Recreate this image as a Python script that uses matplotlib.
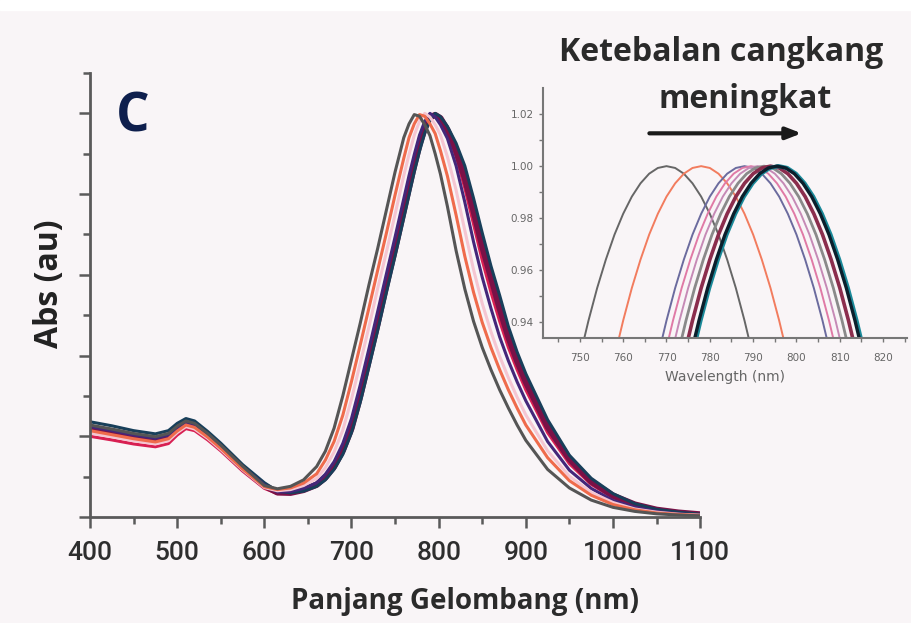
import matplotlib
matplotlib.use("Agg")
from matplotlib import pyplot as plt
from matplotlib.patches import Rectangle
import numpy as np

# spektrum utama
panjang_gelombang = [400, 425, 450, 475, 490, 500, 510, 520, 535, 550, 575, 600,
                     615, 630, 645, 660, 670, 680, 690, 700, 710, 720, 730, 740, 750, 760,
                     766, 772, 778, 784, 790, 796, 802, 810, 820, 830, 840, 850, 860, 870,
                     880, 890, 900, 925, 950, 975, 1000, 1025, 1050, 1075, 1100]

abs_abu = [0.228, 0.218, 0.207, 0.199, 0.207, 0.225, 0.238, 0.232, 0.207, 0.178, 0.126, 0.078,
           0.070, 0.076, 0.092, 0.125, 0.163, 0.220, 0.300, 0.390, 0.480, 0.575, 0.665, 0.760, 0.855, 0.940,
           0.974, 0.997, 0.993, 0.972, 0.945, 0.900, 0.850, 0.770, 0.660, 0.565, 0.485, 0.420, 0.365, 0.315,
           0.270, 0.228, 0.190, 0.118, 0.072, 0.042, 0.024, 0.014, 0.008, 0.005, 0.003]
abs_oranye = [0.214, 0.204, 0.194, 0.186, 0.194, 0.213, 0.228, 0.222, 0.198, 0.170, 0.119, 0.075,
              0.068, 0.072, 0.084, 0.107, 0.141, 0.187, 0.252, 0.336, 0.426, 0.518, 0.611, 0.703, 0.798, 0.889,
              0.940, 0.974, 0.997, 0.993, 0.974, 0.950, 0.908, 0.845, 0.748, 0.646, 0.557, 0.482, 0.420, 0.365,
              0.315, 0.270, 0.228, 0.147, 0.090, 0.054, 0.031, 0.018, 0.010, 0.0065, 0.004]
abs_merahmuda = [0.208, 0.199, 0.189, 0.181, 0.189, 0.209, 0.224, 0.218, 0.195, 0.167, 0.117, 0.073,
                 0.065, 0.068, 0.078, 0.096, 0.122, 0.161, 0.215, 0.292, 0.381, 0.471, 0.566, 0.656, 0.750, 0.846,
                 0.898, 0.946, 0.980, 1.000, 0.991, 0.972, 0.947, 0.893, 0.810, 0.710, 0.613, 0.529, 0.459, 0.398,
                 0.345, 0.297, 0.253, 0.164, 0.101, 0.061, 0.036, 0.020, 0.012, 0.007, 0.0045]
abs_ungu = [0.224, 0.214, 0.203, 0.195, 0.203, 0.222, 0.235, 0.229, 0.204, 0.176, 0.124, 0.080,
            0.062, 0.063, 0.071, 0.085, 0.106, 0.137, 0.182, 0.244, 0.327, 0.417, 0.509, 0.602, 0.694, 0.789,
            0.846, 0.898, 0.946, 0.980, 1.000, 0.991, 0.972, 0.938, 0.870, 0.780, 0.682, 0.594, 0.517, 0.446,
            0.387, 0.335, 0.288, 0.187, 0.116, 0.071, 0.041, 0.024, 0.014, 0.008, 0.005]
abs_merah = [0.200, 0.191, 0.181, 0.174, 0.182, 0.203, 0.219, 0.214, 0.191, 0.164, 0.114, 0.071,
             0.058, 0.058, 0.067, 0.081, 0.101, 0.133, 0.176, 0.236, 0.318, 0.408, 0.499, 0.593, 0.684, 0.779,
             0.836, 0.889, 0.940, 0.974, 0.997, 0.994, 0.979, 0.950, 0.893, 0.815, 0.726, 0.636, 0.557, 0.485,
             0.420, 0.365, 0.315, 0.209, 0.132, 0.081, 0.048, 0.028, 0.016, 0.010, 0.006]
abs_marun = [0.220, 0.210, 0.199, 0.191, 0.199, 0.218, 0.232, 0.226, 0.201, 0.173, 0.122, 0.078,
             0.061, 0.060, 0.067, 0.080, 0.098, 0.125, 0.165, 0.220, 0.300, 0.390, 0.480, 0.575, 0.665, 0.760,
             0.817, 0.872, 0.923, 0.963, 0.990, 0.996, 0.988, 0.959, 0.908, 0.840, 0.759, 0.671, 0.594, 0.517,
             0.446, 0.387, 0.335, 0.224, 0.144, 0.088, 0.053, 0.031, 0.018, 0.011, 0.0065]
abs_biru = [0.236, 0.226, 0.214, 0.206, 0.214, 0.232, 0.244, 0.238, 0.212, 0.183, 0.130, 0.085,
            0.064, 0.060, 0.064, 0.076, 0.092, 0.118, 0.155, 0.209, 0.284, 0.372, 0.462, 0.556, 0.647, 0.741,
            0.798, 0.855, 0.906, 0.951, 0.983, 1.000, 0.992, 0.968, 0.926, 0.870, 0.790, 0.704, 0.622, 0.549,
            0.472, 0.409, 0.355, 0.241, 0.153, 0.096, 0.058, 0.033, 0.019, 0.012, 0.007]

# inset: bentuk puncak (offset dari puncak, nm) dan posisi puncak tiap kurva
inset_offset = [-22, -20, -18, -16, -14, -12, -10, -8, -6, -4, -2, 0, 2, 4, 6, 8, 10, 12, 14, 16, 18, 20, 22]
inset_profil = [0.9114, 0.9268, 0.9407, 0.9532, 0.9641, 0.9737, 0.9817, 0.9883, 0.9934, 0.9971, 0.9993, 1.0,
                0.9993, 0.9971, 0.9934, 0.9883, 0.9817, 0.9737, 0.9641, 0.9532, 0.9407, 0.9268, 0.9114]
inset_puncak = [770, 778, 788, 789.5, 791, 792.5, 794, 795.5]

bg = "#f9f5f7"
judul = ["Open Sans", "DejaVu Sans"]
fig = plt.figure(figsize=(9.12, 6.23), dpi=100)
fig.patch.set_facecolor(bg)
fig.patches.append(Rectangle((0, 0.984), 1, 0.016, transform=fig.transFigure, color="white", zorder=0))

ax = fig.add_axes([0.0987, 0.1701, 0.669, 0.7127])
ax.set_facecolor(bg)

kurva = [
    (abs_merah, "#d81f52", 2.2),
    (abs_marun, "#7a1147", 4.5),
    (abs_biru, "#183f5a", 2.2),
    (abs_ungu, "#44277a", 2.2),
    (abs_merahmuda, "#f5c6d2", 2.2),
    (abs_oranye, "#ef6b4c", 2.2),
    (abs_abu, "#555555", 2.2),
]
for nilai, warna, lw in kurva:
    ax.plot(panjang_gelombang, nilai, color=warna, lw=lw, solid_capstyle="round", solid_joinstyle="round")

ax.set_xlim(400, 1100)
ax.set_ylim(0, 1.1)
ax.spines["top"].set_visible(False)
ax.spines["right"].set_visible(False)
for s in ("left", "bottom"):
    ax.spines[s].set_color("#5a5a5a")
    ax.spines[s].set_linewidth(2)
ax.set_xticks(np.arange(400, 1101, 100))
ax.set_xticks(np.arange(450, 1100, 100), minor=True)
ax.set_yticks(np.arange(0, 1.11, 0.2))
ax.set_yticks(np.arange(0.1, 1.11, 0.2), minor=True)
ax.set_yticklabels([])
ax.tick_params(axis="both", which="major", length=8, width=1.8, color="#5a5a5a")
ax.tick_params(axis="both", which="minor", length=5, width=1.8, color="#5a5a5a")
ax.tick_params(axis="x", labelsize=19, labelcolor="#2e2e2e", pad=9)
for lbl in ax.get_xticklabels():
    lbl.set_fontfamily(["Roboto", "DejaVu Sans"])
    lbl.set_fontweight("medium")

fig.text(465 / 912, 1 - 601 / 623, "Panjang Gelombang (nm)", fontsize=20, fontweight="bold",
         color="#2b2b2b", family=judul, ha="center", va="center")
fig.text(50 / 912, 1 - 284 / 623, "Abs (au)", fontsize=23, fontweight="bold", color="#222222",
         family=judul, rotation=90, ha="center", va="center")
fig.text(133 / 912, 1 - 118 / 623, "C", fontsize=38, fontweight="bold",
         color="#0e1f4d", family=judul, ha="center", va="center")

# inset
axi = fig.add_axes([0.5954, 0.4575, 0.3991, 0.4012])
axi.patch.set_alpha(0)
warna_inset = ["#666666", "#f27c5e", "#6b6b9e", "#e07aa6", "#c68ab6", "#8a8a8a", "#8b2d4d", "#0b1f2c"]
tebal_inset = [1.4, 1.4, 1.4, 1.4, 1.4, 2.0, 2.6, 2.4]
for p, w, lw in zip(inset_puncak, warna_inset, tebal_inset):
    x = np.array(inset_offset) + p
    if w == "#0b1f2c":
        axi.plot(x + 0.35, inset_profil, color="#1b8a9a", lw=lw + 0.6)
    axi.plot(x, inset_profil, color=w, lw=lw)
axi.set_xlim(741.5, 825.5)
axi.set_ylim(0.934, 1.030)
axi.spines["top"].set_visible(False)
axi.spines["right"].set_visible(False)
for s in ("left", "bottom"):
    axi.spines[s].set_color("#777777")
    axi.spines[s].set_linewidth(1.5)
axi.set_xticks(np.arange(750, 821, 10))
axi.set_xticks(np.arange(745, 826, 5), minor=True)
axi.set_yticks([0.94, 0.96, 0.98, 1.00, 1.02])
axi.set_yticks([0.95, 0.97, 0.99, 1.01], minor=True)
axi.set_yticklabels(["0.94", "0.96", "0.98", "1.00", "1.02"])
axi.tick_params(axis="both", which="both", length=3, width=1, color="#777777",
                labelsize=7.5, labelcolor="#666666")
axi.tick_params(axis="x", pad=8)
axi.set_xlabel("Wavelength (nm)", fontsize=10, color="#666666", labelpad=5)

# panah dan teks
fig.text(721 / 912, 1 - 61 / 623, "Ketebalan cangkang", fontsize=23, fontweight="bold", color="#2a2a2a",
         family=judul, ha="center", va="baseline")
fig.text(745 / 912, 1 - 108 / 623, "meningkat", fontsize=23, fontweight="bold", color="#2a2a2a",
         family=judul, ha="center", va="baseline")
ax.annotate("", xy=(0.882, 0.786), xytext=(0.709, 0.786), xycoords="figure fraction",
            arrowprops=dict(arrowstyle="-|>,head_length=0.9,head_width=0.35", color="#1a1a1a", lw=3))

fig.savefig("out.png", dpi=100, facecolor=fig.get_facecolor())
